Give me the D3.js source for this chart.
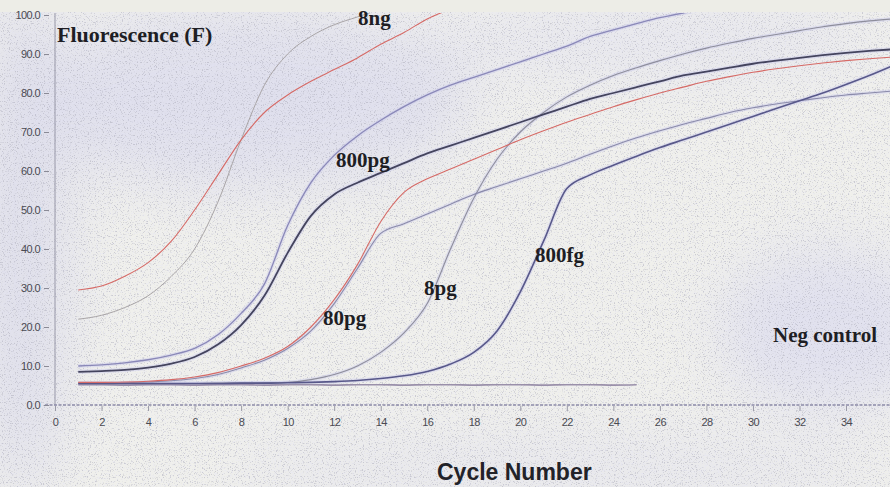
<!DOCTYPE html>
<html><head><meta charset="utf-8">
<script src="https://cdn.jsdelivr.net/npm/d3@7"></script>
<style>
html,body{margin:0;padding:0;background:#ecece7;}
svg{display:block;}
</style></head><body>
<svg id="chart" width="890" height="487"></svg>
<script>
// Real-time PCR amplification curves: fluorescence per cycle for a dilution series
const cycles = [1,2,3,4,5,6,7,8,9,10,11,12,13,14,15,16,17,18,19,20,21,22,23,24,25,26,27,28,29,30,31,32,33,34,35,36];
const xTicks = [0,2,4,6,8,10,12,14,16,18,20,22,24,26,28,30,32,34];
const yTicks = [0,10,20,30,40,50,60,70,80,90,100];

const ng8_a = [29.5,30.5,33,36.5,42,50,59,68,75,79.5,83,86,89,92.5,95.5,99,101.5,null,null,null,null,null,null,null,null,null,null,null,null,null,null,null,null,null,null,null];
const ng8_b = [22,23,25,28,33,40,52,68,82,90,94.5,97.5,99.5,101.5,null,null,null,null,null,null,null,null,null,null,null,null,null,null,null,null,null,null,null,null,null,null];
const pg800_a = [8.5,8.7,9,9.6,10.6,12.3,15.5,20.5,28,39,48.5,54,57,59.5,62,64.5,66.5,68.5,70.5,72.5,74.5,76.5,78.5,80,81.5,83,84.5,85.5,86.5,87.5,88.3,89,89.7,90.3,90.8,91.2];
const pg800_b = [10,10.3,10.8,11.6,12.8,14.5,18,23.5,31,46,57,64,69,73,76.5,79.5,82,84,86,88,90,92,94.5,96.2,97.8,99.3,100.5,101.5,null,null,null,null,null,null,null,null];
const pg80_a = [5.8,5.8,5.9,6.1,6.5,7.2,8.3,10,12,15,20,27,36,47,54.5,58,60.5,63,65.5,68,70.3,72.5,74.5,76.5,78.3,80,81.5,83,84.2,85.3,86.2,87,87.7,88.3,88.8,89.2];
const pg80_b = [5.6,5.6,5.7,5.9,6.2,6.8,7.8,9.5,11.5,14.5,19,26,35,44,46.5,49,51.5,54,56,58,60,62,64.3,66.5,68.5,70.3,72,73.5,75,76.2,77.2,78,78.8,79.5,80,80.5];
const pg8 = [5.5,5.5,5.5,5.5,5.5,5.5,5.6,5.6,5.7,5.8,6.5,7.8,10,13.5,18.5,26,40,53,63,70,75,79,82,84.5,86.5,88.3,90,91.5,92.8,94,95,96,97,97.8,98.5,99];
const fg800 = [5.5,5.5,5.5,5.5,5.5,5.5,5.5,5.6,5.6,5.7,5.8,6,6.3,6.8,7.5,8.6,10.5,13.5,19,29,42,55.5,59,61.5,63.8,66,68,70,72,74,76,78,80,82.2,84.5,87];
const negCtrl = [5.2,5.2,5.1,5.2,5.2,5.1,5.2,5.2,5.1,5.2,5.2,5.1,5.2,5.2,5.1,5.2,5.2,5.1,5.2,5.2,5.1,5.2,5.2,5.1,5.2,null,null,null,null,null,null,null,null,null,null,null];

const series = [
  {values: negCtrl, color: "#9a90aa", width: 1.6, halo: false},
  {values: ng8_b,   color: "#a8a4a6", width: 1.0, halo: false},
  {values: pg8,     color: "#8e8e9c", width: 1.1, halo: true},
  {values: pg80_b,  color: "#8a8aaa", width: 1.1, halo: true},
  {values: fg800,   color: "#58588a", width: 1.6, halo: true},
  {values: pg800_b, color: "#8a88b8", width: 1.3, halo: true},
  {values: pg800_a, color: "#44445e", width: 1.8, halo: true},
  {values: pg80_a,  color: "#d66a66", width: 1.1, halo: false},
  {values: ng8_a,   color: "#d66a66", width: 1.1, halo: false}
];

const svg = d3.select("#chart");
const x = d3.scaleLinear().domain([0, 34]).range([55, 846]);
const y = d3.scaleLinear().domain([0, 100]).range([405, 15]);

const defs = svg.append("defs");
defs.append("filter").attr("id", "soft").attr("x", "-50%").attr("y", "-50%").attr("width", "200%").attr("height", "200%")
  .append("feGaussianBlur").attr("stdDeviation", 30);
const grain = defs.append("filter").attr("id", "grain").attr("x", 0).attr("y", 0).attr("width", "100%").attr("height", "100%");
grain.append("feTurbulence").attr("type", "fractalNoise").attr("baseFrequency", 0.85).attr("numOctaves", 2).attr("seed", 7);
grain.append("feColorMatrix").attr("type", "matrix")
  .attr("values", "0 0 0 0 0.4  0 0 0 0 0.4  0 0 0 0 0.48  6 0 0 0 -3.4");
const tint = defs.append("filter").attr("id", "tint").attr("x", 0).attr("y", 0).attr("width", "100%").attr("height", "100%");
tint.append("feTurbulence").attr("type", "fractalNoise").attr("baseFrequency", 0.6).attr("numOctaves", 2).attr("seed", 21);
tint.append("feColorMatrix").attr("type", "matrix")
  .attr("values", "0 0 0 0 0.78  0 0 0 0 0.78  0 0 0 0 0.93  0 4 0 0 -2.0");
defs.append("clipPath").attr("id", "plot").append("rect")
  .attr("x", 55).attr("y", 13).attr("width", 835).attr("height", 393);

// paper background with faint lavender patches
svg.append("rect").attr("width", 890).attr("height", 487).attr("fill", "#f0f0ec");
const blobs = svg.append("g").attr("filter", "url(#soft)").attr("opacity", 0.75);
blobs.append("ellipse").attr("cx", 250).attr("cy", 100).attr("rx", 220).attr("ry", 90).attr("fill", "#dadaec");
blobs.append("ellipse").attr("cx", 22).attr("cy", 240).attr("rx", 45).attr("ry", 260).attr("fill", "#d8d8ea");
blobs.append("ellipse").attr("cx", 830).attr("cy", 330).attr("rx", 110).attr("ry", 80).attr("fill", "#dcdcee");
blobs.append("ellipse").attr("cx", 650).attr("cy", 40).attr("rx", 230).attr("ry", 30).attr("fill", "#e2e2ee");
blobs.append("ellipse").attr("cx", 560).attr("cy", 470).attr("rx", 330).attr("ry", 30).attr("fill", "#e4e4ec");
svg.append("rect").attr("width", 890).attr("height", 12).attr("fill", "#edede7");
svg.append("rect").attr("y", 12).attr("width", 890).attr("height", 475).attr("filter", "url(#tint)").attr("opacity", 0.4);
svg.append("rect").attr("y", 12).attr("width", 890).attr("height", 475).attr("filter", "url(#grain)").attr("opacity", 0.5);

// axes
svg.append("line").attr("x1", 55).attr("x2", 55).attr("y1", 13).attr("y2", 405)
  .attr("stroke", "#9898a8").attr("stroke-width", 1);
svg.append("line").attr("x1", 45).attr("x2", 890).attr("y1", y(0)).attr("y2", y(0))
  .attr("stroke", "#8c8aa8").attr("stroke-width", 1.3).attr("stroke-dasharray", "3,1.5");

const gy = svg.append("g").attr("transform", "translate(49,0)")
  .call(d3.axisLeft(y).tickValues(yTicks).tickFormat(d3.format(".1f")).tickSize(5).tickPadding(4).tickSizeOuter(0));
gy.select(".domain").remove();
gy.selectAll(".tick line").attr("stroke", "#8a8a96");
gy.selectAll(".tick text").attr("fill", "#4a4a52").attr("font-family", "'Liberation Sans Narrow','Arial Narrow',sans-serif")
  .attr("font-size", 11).attr("letter-spacing", -0.6);

const gx = svg.append("g").attr("transform", "translate(0,406)")
  .call(d3.axisBottom(x).tickValues(xTicks).tickFormat(d3.format("d")).tickSize(5).tickPadding(7).tickSizeOuter(0));
gx.select(".domain").remove();
gx.selectAll(".tick line").attr("stroke", "#9a9aa6");
gx.selectAll(".tick text").attr("fill", "#4a4a52").attr("font-family", "'Liberation Sans Narrow','Arial Narrow',sans-serif")
  .attr("font-size", 11).attr("letter-spacing", -0.6);

// amplification curves
const line = d3.line()
  .defined(d => d != null)
  .x((d, i) => x(cycles[i]))
  .y(d => y(d))
  .curve(d3.curveMonotoneX);
const plot = svg.append("g").attr("clip-path", "url(#plot)");
plot.selectAll("path.halo").data(series.filter(s => s.halo)).join("path")
  .attr("class", "halo").attr("fill", "none")
  .attr("stroke", "#cacaea").attr("stroke-width", d => d.width + 2.5).attr("opacity", 0.45)
  .attr("d", d => line(d.values));
plot.selectAll("path.curve").data(series).join("path")
  .attr("class", "curve").attr("fill", "none")
  .attr("stroke", d => d.color).attr("stroke-width", d => d.width)
  .attr("stroke-linejoin", "round")
  .attr("d", d => line(d.values));

// titles and curve labels
const serif = "'Liberation Serif','Times New Roman',serif";
svg.append("text").attr("x", 57).attr("y", 42).text("Fluorescence (F)")
  .attr("font-family", serif).attr("font-weight", "bold").attr("font-size", 22).attr("fill", "#1e1e24");
const labels = [
  {t: "8ng", x: 358, y: 25},
  {t: "800pg", x: 336, y: 167},
  {t: "80pg", x: 323, y: 325},
  {t: "8pg", x: 424, y: 295},
  {t: "800fg", x: 535, y: 262},
  {t: "Neg control", x: 773, y: 342}
];
svg.selectAll("text.lab").data(labels).join("text").attr("class", "lab")
  .attr("x", d => d.x).attr("y", d => d.y).text(d => d.t)
  .attr("font-family", serif).attr("font-weight", "bold").attr("font-size", 21).attr("fill", "#1e1e24");
svg.append("text").attr("x", 437).attr("y", 480).text("Cycle Number")
  .attr("font-family", "'Liberation Sans',Arial,sans-serif").attr("font-weight", "bold")
  .attr("font-size", 23).attr("fill", "#222228");
</script>
</body></html>
